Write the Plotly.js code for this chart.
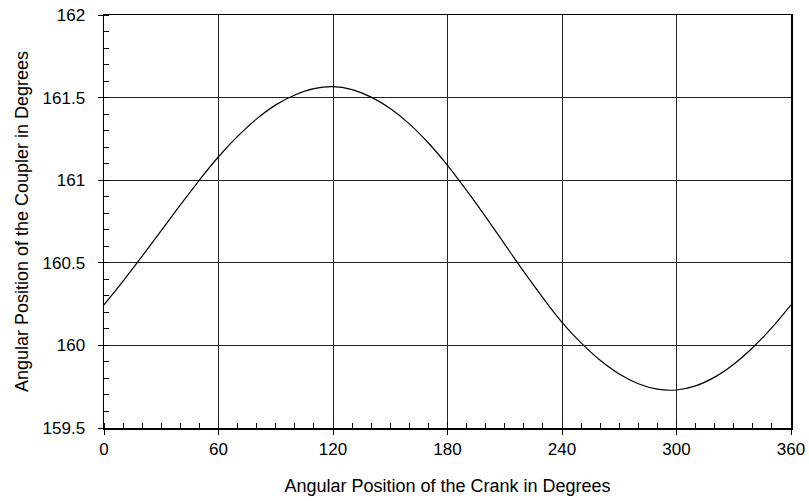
<!DOCTYPE html>
<html>
<head>
<meta charset="utf-8">
<script src="https://cdn.plot.ly/plotly-3.0.1.min.js"></script>
<style>html,body{margin:0;padding:0;background:#fff;}#chart{width:809px;height:501px;}</style>
</head>
<body>
<div id="chart"></div>
<script>
const crankAngle = [0,10,20,30,40,50,60,70,80,90,100,110,120,130,140,150,160,170,180,190,200,210,220,230,240,250,260,270,280,290,300,310,320,330,340,350,360];
const couplerAngle = [160.246,160.389,160.540,160.695,160.850,161.001,161.142,161.265,161.371,161.456,161.516,161.554,161.566,161.548,161.503,161.434,161.341,161.225,161.090,160.938,160.778,160.612,160.446,160.288,160.140,160.015,159.910,159.827,159.768,159.735,159.730,159.755,159.808,159.886,159.987,160.108,160.246];
const xTicks = [0,60,120,180,240,300,360];
const yTicks = [159.5,160,160.5,161,161.5,162];
const yTickText = ['159.5','160','160.5','161','161.5','162'];
const xTitle = 'Angular Position of the Crank in Degrees';
const yTitle = 'Angular Position of the Coupler in Degrees';

const tickFont = {family: 'Liberation Sans, Arial, sans-serif', size: 17, color: '#000'};
const titleFont = {family: 'Liberation Sans, Arial, sans-serif', size: 18, color: '#000'};
const trace = {x: crankAngle, y: couplerAngle, type: 'scatter', mode: 'lines',
  line: {color: '#000', width: 1.2, shape: 'spline', smoothing: 1}, hoverinfo: 'none'};
const tickTrace = {x: crankAngle, y: couplerAngle, type: 'scatter', mode: 'lines', yaxis: 'y2',
  opacity: 0, line: {color: '#000', width: 1}, hoverinfo: 'none'};
const layout = {
  width: 809, height: 501,
  margin: {l: 103.5, r: 18, t: 15, b: 73},
  paper_bgcolor: '#fff', plot_bgcolor: '#fff',
  showlegend: false, font: tickFont,
  xaxis: {range: [0,360], tickvals: xTicks, ticktext: xTicks.map(String),
    showgrid: true, gridcolor: '#222', gridwidth: 1,
    showline: true, linecolor: '#000', linewidth: 1.5, mirror: true,
    ticks: 'outside', ticklen: 5, tickcolor: '#000', tickwidth: 1,
    minor: {dtick: 10, ticks: 'inside', ticklen: 5, tickcolor: '#000', tickwidth: 1, showgrid: false},
    zeroline: false, tickfont: tickFont,
    title: {text: xTitle, font: titleFont, standoff: 21}},
  yaxis: {range: [159.5,162], tickvals: yTicks, ticktext: yTickText,
    showgrid: true, gridcolor: '#222', gridwidth: 1,
    showline: true, linecolor: '#000', linewidth: 1.5, mirror: true,
    ticks: 'outside', ticklen: 5, tickcolor: '#000', tickwidth: 1,
    zeroline: false, tickfont: tickFont, ticklabelstandoff: 9,
    title: {text: yTitle, font: titleFont, standoff: 9}},
  yaxis2: {range: [159.5,162], tickvals: yTicks, overlaying: 'y', side: 'left',
    showgrid: false, showline: false, zeroline: false, showticklabels: false,
    ticks: '',
    minor: {dtick: 0.1, ticks: 'inside', ticklen: 5, tickcolor: '#000', tickwidth: 1, showgrid: false}}
};
Plotly.newPlot('chart', [trace, tickTrace], layout, {staticPlot: true, displayModeBar: false});
</script>
</body>
</html>
